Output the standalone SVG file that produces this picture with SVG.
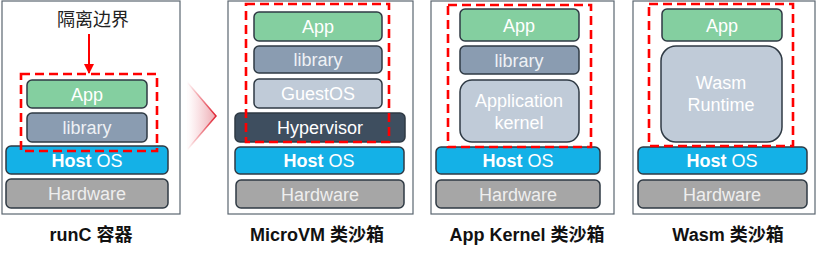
<svg xmlns="http://www.w3.org/2000/svg" width="826" height="256" viewBox="0 0 826 256">
<style>
.panel{fill:#fff;stroke:#5b6670;stroke-width:1.2}
.blk{stroke:#2f3a44;stroke-width:1.5}
.app{fill:#84cfa0}
.lib{fill:#8a9cb1}
.guest{fill:#c0cbd8}
.hyp{fill:#3e4e5f}
.host{fill:#14b1e7}
.hw{fill:#a6a6a6}
.rt{fill:#c0cbd8}
.t{font-family:"Liberation Sans","Noto Sans CJK SC",sans-serif;font-size:18px;fill:#fff;text-anchor:middle}
.tl{fill:#eef1f5}
.th{fill:#eeeeee}
.b{font-weight:bold}
.lbl{font-family:"Liberation Sans","Noto Sans CJK SC",sans-serif;font-size:18px;font-weight:bold;fill:#111;text-anchor:middle}
.dash{fill:none;stroke:#ff0000;stroke-width:2.6;stroke-dasharray:9 5}
</style>
<defs>
<linearGradient id="chev" x1="0" y1="0" x2="1" y2="0">
<stop offset="0" stop-color="#f4b8bf" stop-opacity="0"/>
<stop offset="1" stop-color="#eaa0a8" stop-opacity="0.9"/>
</linearGradient>
<linearGradient id="chevs" x1="0" y1="0" x2="1" y2="0">
<stop offset="0" stop-color="#e63946" stop-opacity="0"/>
<stop offset="1" stop-color="#e02030"/>
</linearGradient>
<marker id="ah" viewBox="0 0 10 10" refX="9" refY="5" markerWidth="5" markerHeight="5" orient="auto" markerUnits="strokeWidth">
<path d="M0,0 L10,5 L0,10 z" fill="#ff0000"/>
</marker>
</defs>

<g id="panel-runc">
<rect class="panel" x="2" y="1" width="178" height="213"/>
<rect class="blk app" x="27" y="80" width="120" height="28" rx="5"/>
<text class="t" x="87" y="100.5">App</text>
<rect class="blk lib" x="27" y="113" width="120" height="29" rx="5"/>
<text class="t tl" x="87" y="134">library</text>
<rect class="blk host" x="6" y="146" width="162" height="28" rx="5"/>
<text class="t" x="87" y="166.5"><tspan class="b">Host</tspan> OS</text>
<rect class="blk hw" x="6" y="179" width="162" height="29" rx="5"/>
<text class="t th" x="87" y="200">Hardware</text>
<rect class="dash" x="21" y="74" width="136" height="77"/>
<text x="93" y="26" font-family="'Noto Sans CJK SC',sans-serif" font-size="18" fill="#222" text-anchor="middle">隔离边界</text>
<text class="lbl" x="91" y="241">runC 容器</text>
</g>

<g id="connectors">
<line x1="89" y1="34" x2="89" y2="73" stroke="#ff0000" stroke-width="2" marker-end="url(#ah)"/>
<polygon points="187,82 216,116 187,150" fill="url(#chev)" stroke="url(#chevs)" stroke-width="1.5"/>
</g>

<g id="panel-microvm">
<rect class="panel" x="228" y="1" width="185" height="213"/>
<rect class="blk app" x="254" y="12" width="128" height="29" rx="5"/>
<text class="t" x="318" y="33">App</text>
<rect class="blk lib" x="254" y="46" width="128" height="27" rx="5"/>
<text class="t tl" x="318" y="66">library</text>
<rect class="blk guest" x="254" y="79" width="128" height="29" rx="5"/>
<text class="t" x="318" y="100">GuestOS</text>
<rect class="blk hyp" x="235" y="113" width="170" height="29" rx="5"/>
<text class="t" x="320" y="134">Hypervisor</text>
<rect class="blk host" x="235" y="147" width="169" height="27" rx="5"/>
<text class="t" x="319" y="167"><tspan class="b">Host</tspan> OS</text>
<rect class="blk hw" x="236" y="180" width="168" height="28" rx="5"/>
<text class="t th" x="320" y="200.5">Hardware</text>
<rect class="dash" x="246" y="4" width="143" height="138"/>
<text class="lbl" x="317" y="241">MicroVM 类沙箱</text>
</g>

<g id="panel-appkernel">
<rect class="panel" x="431" y="1" width="183" height="213"/>
<rect class="blk app" x="460" y="9" width="119" height="32" rx="5"/>
<text class="t" x="519" y="31.5">App</text>
<rect class="blk lib" x="460" y="46" width="119" height="28" rx="5"/>
<text class="t tl" x="519" y="66.5">library</text>
<rect class="blk guest" x="460" y="80" width="119" height="62" rx="12"/>
<text class="t" x="519" y="107">Application</text>
<text class="t" x="519" y="129">kernel</text>
<rect class="blk host" x="436" y="147" width="164" height="27" rx="5"/>
<text class="t" x="518" y="167"><tspan class="b">Host</tspan> OS</text>
<rect class="blk hw" x="436" y="180" width="164" height="28" rx="5"/>
<text class="t th" x="518" y="200.5">Hardware</text>
<rect class="dash" x="448" y="5" width="143" height="142"/>
<text class="lbl" x="527" y="241">App Kernel 类沙箱</text>
</g>

<g id="panel-wasm">
<rect class="panel" x="633" y="1" width="182" height="213"/>
<rect class="blk app" x="662" y="9" width="120" height="32" rx="5"/>
<text class="t" x="722" y="31.5">App</text>
<rect class="blk rt" x="661" y="46" width="121" height="96" rx="15"/>
<text class="t" x="721" y="89">Wasm</text>
<text class="t" x="721" y="111">Runtime</text>
<rect class="blk host" x="638" y="147" width="169" height="27" rx="5"/>
<text class="t" x="722" y="167"><tspan class="b">Host</tspan> OS</text>
<rect class="blk hw" x="638" y="180" width="169" height="28" rx="5"/>
<text class="t th" x="722" y="200.5">Hardware</text>
<rect class="dash" x="649" y="4" width="144" height="142"/>
<text class="lbl" x="728" y="241">Wasm 类沙箱</text>
</g>
</svg>
